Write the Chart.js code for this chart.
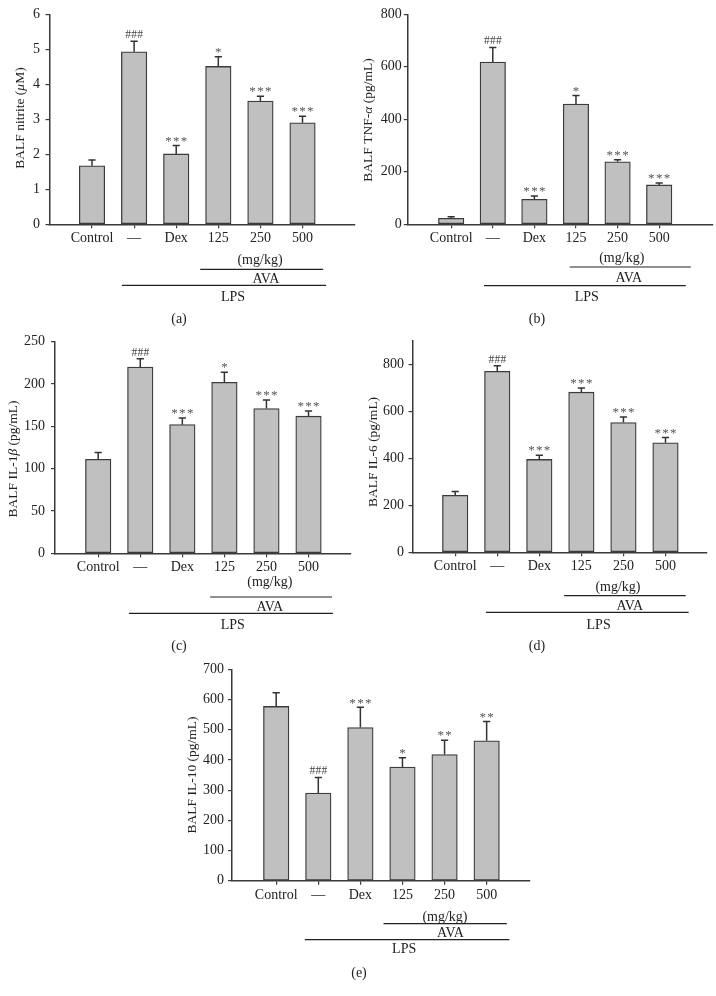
<!DOCTYPE html>
<html><head><meta charset="utf-8">
<script src="https://cdn.jsdelivr.net/npm/chart.js@4.4.1/dist/chart.umd.min.js"></script>
<style>
html,body{margin:0;padding:0;background:#fff;}
#wrap{position:relative;width:716px;height:996px;overflow:hidden;}
canvas{position:absolute;left:0;top:0;}
</style></head><body><div id="wrap">
<canvas id="ca" width="716" height="996"></canvas>
<canvas id="cb" width="716" height="996"></canvas>
<canvas id="cc" width="716" height="996"></canvas>
<canvas id="cd" width="716" height="996"></canvas>
<canvas id="ce" width="716" height="996"></canvas>
</div>
<script>
// ---------- data ----------
const categories = ['Control', '\u2014', 'Dex', '125', '250', '500'];

const nitriteMean = [1.67, 4.93, 2.01, 4.51, 3.52, 2.90];
const nitriteSem  = [0.17, 0.30, 0.24, 0.28, 0.14, 0.19];
const nitriteSig  = ['', '###', '***', '*', '***', '***'];
const nitriteTicks = [0, 1, 2, 3, 4, 5, 6];

const tnfMean = [23, 618, 95, 458, 238, 150];
const tnfSem  = [6, 56, 13, 33, 8, 7];
const tnfSig  = ['', '###', '***', '*', '***', '***'];
const tnfTicks = [0, 200, 400, 600, 800];

const il1Mean = [111, 220, 152, 202, 171, 162];
const il1Sem  = [8, 10, 8, 12, 10, 6];
const il1Sig  = ['', '###', '***', '*', '***', '***'];
const il1Ticks = [0, 50, 100, 150, 200, 250];

const il6Mean = [242, 770, 395, 681, 552, 466];
const il6Sem  = [17, 23, 18, 18, 24, 22];
const il6Sig  = ['', '###', '***', '***', '***', '***'];
const il6Ticks = [0, 200, 400, 600, 800];

const il10Mean = [577, 290, 507, 376, 418, 463];
const il10Sem  = [45, 52, 67, 31, 47, 64];
const il10Sig  = ['', '###', '***', '*', '**', '**'];
const il10Ticks = [0, 100, 200, 300, 400, 500, 600, 700];

// ---------- layout / style ----------
const FONT = "'Liberation Serif', 'Times New Roman', serif";
const TXT = '#222';
const AX = '#3a3a3a';
const BAR_FILL = '#c0c0c0';
const BAR_EDGE = '#3c3c3c';
const SIG_COL = '#555';
const YW = 40, XH = 30;

const panels = [
  {canvas:'ca', mean:nitriteMean, sem:nitriteSem, sig:nitriteSig, yTicks:nitriteTicks, yMax:6,
   title:[['BALF nitrite (',0],['\u03bc',1],['M)',0]],
   L:{left:49.5,right:355,top:14.3,zero:224.3,xMin:-1.01,xMax:6.247,tickPad:5.5,titleX:20,titleY:118,
      tag:'(a)',tagX:179,tagY:318, mg:[3.99,35], ava:[2.57,5.49,45], avaText:[4.13,54.4], lps:[0.71,5.56,61], lpsText:[3.35,71.7]}},
  {canvas:'cb', mean:tnfMean, sem:tnfSem, sig:tnfSig, yTicks:tnfTicks, yMax:800,
   title:[['BALF TNF-',0],['\u03b1',1],[' (pg/mL)',0]],
   L:{left:407.8,right:713,top:14.3,zero:224.3,xMin:-1.043,xMax:6.294,tickPad:2,titleX:368,titleY:120,
      tag:'(b)',tagX:537,tagY:318, mg:[4.1,33.4], ava:[2.85,5.76,42.7], avaText:[4.27,52.7], lps:[0.79,5.64,61.4], lpsText:[3.26,71.7]}},
  {canvas:'cc', mean:il1Mean, sem:il1Sem, sig:il1Sig, yTicks:il1Ticks, yMax:250,
   title:[['BALF IL-1',0],['\u03b2',1],[' (pg/mL)',0]],
   L:{left:55,right:351,top:341.7,zero:553.3,xMin:-1.027,xMax:6.01,tickPad:6,titleX:13,titleY:459,
      tag:'(c)',tagX:179,tagY:645, mg:[4.08,28], ava:[2.66,5.56,43.7], avaText:[4.08,52.7], lps:[0.73,5.58,60], lpsText:[3.2,71.4]}},
  {canvas:'cd', mean:il6Mean, sem:il6Sem, sig:il6Sig, yTicks:il6Ticks, yMax:900,
   title:[['BALF IL-6 (pg/mL)',0]],
   L:{left:412.5,right:706.5,top:340.7,zero:552.3,xMin:-1.015,xMax:5.975,tickPad:4.5,titleX:373,titleY:452,
      tag:'(d)',tagX:537,tagY:645, mg:[3.87,34.4], ava:[2.59,5.48,43.4], avaText:[4.15,52.7], lps:[0.73,5.55,60], lpsText:[3.41,71.7]}},
  {canvas:'ce', mean:il10Mean, sem:il10Sem, sig:il10Sig, yTicks:il10Ticks, yMax:700,
   title:[['BALF IL-10 (pg/mL)',0]],
   L:{left:232,right:530,top:669.3,zero:880.7,xMin:-1.05,xMax:6.03,tickPad:4,titleX:192,titleY:775,
      tag:'(e)',tagX:359,tagY:972, mg:[4.01,35.3], ava:[2.55,5.48,43], avaText:[4.14,51.6], lps:[0.68,5.54,59], lpsText:[3.04,67.6]}}
];

function centerText(ctx, str, x, cy, size, color, italic) {
  ctx.save();
  ctx.font = (italic ? 'italic ' : '') + size + 'px ' + FONT;
  ctx.fillStyle = color || TXT;
  ctx.textAlign = 'center';
  ctx.textBaseline = 'alphabetic';
  ctx.fillText(str, x, cy + size * 0.33);
  ctx.restore();
}

function drawSig(ctx, str, x, cy) {
  if (!str) return;
  const hash = str[0] === '#';
  const size = hash ? 11.5 : 13;
  const pitch = hash ? 6 : 7.8;
  ctx.save();
  ctx.font = size + 'px ' + FONT;
  ctx.fillStyle = hash ? '#444' : SIG_COL;
  ctx.textAlign = 'center';
  ctx.textBaseline = 'alphabetic';
  const m = ctx.measureText(str[0]);
  const base = cy + (m.actualBoundingBoxAscent - m.actualBoundingBoxDescent) / 2;
  const n = str.length;
  for (let i = 0; i < n; i++) {
    ctx.fillText(str[i], x - (n - 1) * pitch / 2 + i * pitch, base);
  }
  ctx.restore();
}

function makeChart(p) {
  const L = p.L;
  const pts = p.mean.map((v, i) => ({x: i, y: v}));
  const overlay = {
    id: 'overlay' + p.canvas,
    afterDatasetsDraw(chart) {
      const ctx = chart.ctx, xs = chart.scales.x, ys = chart.scales.y;
      ctx.save();
      ctx.strokeStyle = '#333';
      ctx.lineWidth = 1.5;
      p.mean.forEach((v, i) => {
        const x = xs.getPixelForValue(i);
        const y0 = ys.getPixelForValue(v);
        const y1 = ys.getPixelForValue(v + p.sem[i]);
        ctx.beginPath();
        ctx.moveTo(x, y0); ctx.lineTo(x, y1);
        ctx.moveTo(x - 3.6, y1); ctx.lineTo(x + 3.6, y1);
        ctx.stroke();
        const off = (p.sig[i] && p.sig[i][0] === '#') ? 7 : 6.3;
        drawSig(ctx, p.sig[i], x, y1 - off);
      });
      ctx.restore();
    },
    afterDraw(chart) {
      const ctx = chart.ctx, xs = chart.scales.x;
      const z = L.zero;
      ctx.save();
      ctx.strokeStyle = '#222';
      ctx.lineWidth = 1.2;
      [L.ava, L.lps].forEach(ln => {
        ctx.beginPath();
        ctx.moveTo(xs.getPixelForValue(ln[0]), z + ln[2]);
        ctx.lineTo(xs.getPixelForValue(ln[1]), z + ln[2]);
        ctx.stroke();
      });
      ctx.restore();
      centerText(ctx, '(mg/kg)', xs.getPixelForValue(L.mg[0]), z + L.mg[1], 14);
      centerText(ctx, 'AVA', xs.getPixelForValue(L.avaText[0]), z + L.avaText[1], 14);
      centerText(ctx, 'LPS', xs.getPixelForValue(L.lpsText[0]), z + L.lpsText[1], 14);
      centerText(ctx, L.tag, L.tagX, L.tagY, 14);
      // y-axis title (rotated, mixed italic)
      ctx.save();
      const ts = 13.5;
      let total = 0;
      p.title.forEach(s => { ctx.font = (s[1] ? 'italic ' : '') + ts + 'px ' + FONT; total += ctx.measureText(s[0]).width; });
      ctx.translate(L.titleX, L.titleY);
      ctx.rotate(-Math.PI / 2);
      ctx.fillStyle = TXT;
      ctx.textBaseline = 'alphabetic';
      ctx.textAlign = 'left';
      let cx = -total / 2;
      p.title.forEach(s => {
        ctx.font = (s[1] ? 'italic ' : '') + ts + 'px ' + FONT;
        ctx.fillText(s[0], cx, ts * 0.33);
        cx += ctx.measureText(s[0]).width;
      });
      ctx.restore();
    }
  };
  return new Chart(document.getElementById(p.canvas), {
    type: 'bar',
    data: {
      datasets: [{
        data: pts,
        backgroundColor: BAR_FILL,
        borderColor: BAR_EDGE,
        borderWidth: 1.3,
        borderSkipped: false,
        barThickness: 25.5
      }]
    },
    options: {
      responsive: false,
      animation: false,
      events: [],
      layout: {padding: {left: L.left - YW, right: 716 - L.right, top: L.top, bottom: 996 - L.zero - XH}},
      plugins: {legend: {display: false}, tooltip: {enabled: false}},
      scales: {
        x: {
          type: 'linear', min: L.xMin, max: L.xMax, offset: false,
          afterBuildTicks: s => { s.ticks = categories.map((c, i) => ({value: i})); },
          afterFit: s => { s.height = XH; },
          ticks: {callback: v => categories[v], font: {family: FONT, size: 14}, color: TXT, padding: 2, maxRotation: 0, autoSkip: false},
          grid: {display: true, offset: false, drawOnChartArea: false, drawTicks: true, tickLength: 4, color: AX, lineWidth: 1.2},
          border: {display: true, color: AX, width: 1.5}
        },
        y: {
          min: 0, max: p.yMax,
          afterBuildTicks: s => { s.ticks = p.yTicks.map(v => ({value: v})); },
          afterFit: s => { s.width = YW; },
          ticks: {font: {family: FONT, size: 14}, color: TXT, padding: L.tickPad},
          grid: {display: true, offset: false, drawOnChartArea: false, drawTicks: true, tickLength: 4, color: AX, lineWidth: 1.2},
          border: {display: true, color: AX, width: 1.5}
        }
      }
    },
    plugins: [overlay]
  });
}

panels.forEach(makeChart);
</script>
</body></html>
